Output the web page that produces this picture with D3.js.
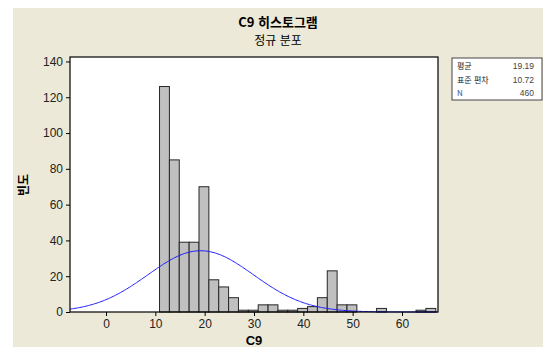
<!DOCTYPE html>
<html lang="ko">
<head>
  <meta charset="UTF-8">
  <title>C9 히스토그램</title>
  <script src="https://d3js.org/d3.v7.min.js"></script>
  <style>
    body { margin: 0; background: #fff; }
    text { font-family: "Liberation Sans", Arial, "Noto Sans CJK KR", sans-serif; }
    .kr { font-family: "Noto Sans CJK KR", "Liberation Sans", sans-serif; }
  </style>
</head>
<body>
  <div id="chart"></div>

  <script>
    // histogram bins (width 2), lower edge of the first bin and counts
    const binStart = 10.85;
    const binWidth = 2;
    const counts = [126, 85, 39, 39, 70, 18, 14, 8, 1, 1, 4, 4, 1, 1,
                    2, 3, 8, 23, 4, 4, 0, 0, 2, 0, 0, 0, 1, 2];

    // fitted normal distribution shown in the legend
    const mean = 19.19;
    const stdev = 10.72;
    const n = 460;

    const xTicks = [0, 10, 20, 30, 40, 50, 60];
    const yTicks = [0, 20, 40, 60, 80, 100, 120, 140];
    const legendRows = [
      { label: "평균", value: "19.19" },
      { label: "표준 편차", value: "10.72" },
      { label: "N", value: "460" }
    ];

    const W = 543, H = 347;
    const plot = { left: 70, right: 438, top: 57, bottom: 312 };

    const svg = d3.select("#chart")
      .append("svg")
      .attr("width", W)
      .attr("height", H);

    // beige figure background
    svg.append("rect")
      .attr("x", 13).attr("y", 8)
      .attr("width", W - 13).attr("height", H - 8)
      .attr("fill", "#ECE9D8");

    const x = d3.scaleLinear()
      .domain([-7.3, 67.3])
      .range([plot.left, plot.right]);

    const y = d3.scaleLinear()
      .domain([0, 142.5])
      .range([plot.bottom, plot.top]);

    // plot area
    svg.append("rect")
      .attr("x", plot.left).attr("y", plot.top)
      .attr("width", plot.right - plot.left)
      .attr("height", plot.bottom - plot.top)
      .attr("fill", "#fff");

    const bins = counts.map((c, i) => ({
      x0: binStart + i * binWidth,
      x1: binStart + (i + 1) * binWidth,
      count: c
    })).filter(d => d.count > 0);

    svg.append("g")
      .selectAll("rect")
      .data(bins)
      .enter().append("rect")
        .attr("x", d => x(d.x0))
        .attr("y", d => y(d.count))
        .attr("width", d => x(d.x1) - x(d.x0))
        .attr("height", d => y(0) - y(d.count))
        .attr("fill", "#c0c0c0")
        .attr("stroke", "#262626")
        .attr("stroke-width", 1);

    // normal curve scaled to counts
    const scaleFactor = n * binWidth / (stdev * Math.sqrt(2 * Math.PI));
    const curve = d3.range(-7.3, 67.31, 0.25).map(v => ({
      v: v,
      f: scaleFactor * Math.exp(-0.5 * Math.pow((v - mean) / stdev, 2))
    }));

    svg.append("path")
      .datum(curve)
      .attr("fill", "none")
      .attr("stroke", "#1a1aff")
      .attr("stroke-width", 1)
      .attr("d", d3.line().x(d => x(d.v)).y(d => y(d.f)));

    // frame
    svg.append("rect")
      .attr("x", plot.left).attr("y", plot.top)
      .attr("width", plot.right - plot.left)
      .attr("height", plot.bottom - plot.top)
      .attr("fill", "none")
      .attr("stroke", "#000")
      .attr("stroke-width", 1.2);

    // axes
    const xAxis = svg.append("g")
      .attr("transform", "translate(0," + plot.bottom + ")")
      .call(d3.axisBottom(x).tickValues(xTicks).tickSize(4).tickPadding(3));
    xAxis.select(".domain").remove();
    xAxis.selectAll("text").attr("font-size", 12).attr("fill", "#222")
      .style("font-family", "Liberation Sans, Arial, sans-serif");

    const yAxis = svg.append("g")
      .attr("transform", "translate(" + plot.left + ",0)")
      .call(d3.axisLeft(y).tickValues(yTicks).tickSize(4).tickPadding(3));
    yAxis.select(".domain").remove();
    yAxis.selectAll("text").attr("font-size", 12).attr("fill", "#222")
      .style("font-family", "Liberation Sans, Arial, sans-serif");

    // titles
    svg.append("text")
      .attr("class", "kr")
      .attr("x", 278).attr("y", 27)
      .attr("text-anchor", "middle")
      .attr("font-size", 13).attr("font-weight", "bold")
      .text("C9 히스토그램");

    svg.append("text")
      .attr("class", "kr")
      .attr("x", 278).attr("y", 45)
      .attr("text-anchor", "middle")
      .attr("font-size", 12)
      .text("정규 분포");

    svg.append("text")
      .attr("x", (plot.left + plot.right) / 2).attr("y", 345)
      .attr("text-anchor", "middle")
      .attr("font-size", 13).attr("font-weight", "bold")
      .text("C9");

    svg.append("text")
      .attr("class", "kr")
      .attr("transform", "translate(28,185) rotate(-90)")
      .attr("text-anchor", "middle")
      .attr("font-size", 12).attr("font-weight", "bold")
      .text("빈도");

    // legend box
    const legend = svg.append("g");
    legend.append("rect")
      .attr("x", 452).attr("y", 58)
      .attr("width", 90).attr("height", 42)
      .attr("fill", "#fff")
      .attr("stroke", "#444")
      .attr("stroke-width", 1);

    legend.selectAll(".lab")
      .data(legendRows)
      .enter().append("text")
        .attr("class", "kr")
        .attr("x", 457)
        .attr("y", (d, i) => 69 + i * 13.5)
        .attr("font-size", 8)
        .attr("fill", (d, i) => i === 2 ? "#4a4aa0" : "#222")
        .text(d => d.label);

    legend.selectAll(".val")
      .data(legendRows)
      .enter().append("text")
        .attr("x", 534)
        .attr("y", (d, i) => 69 + i * 13.5)
        .attr("text-anchor", "end")
        .attr("font-size", 8.5)
        .attr("fill", "#444")
        .text(d => d.value);
  </script>
</body>
</html>
